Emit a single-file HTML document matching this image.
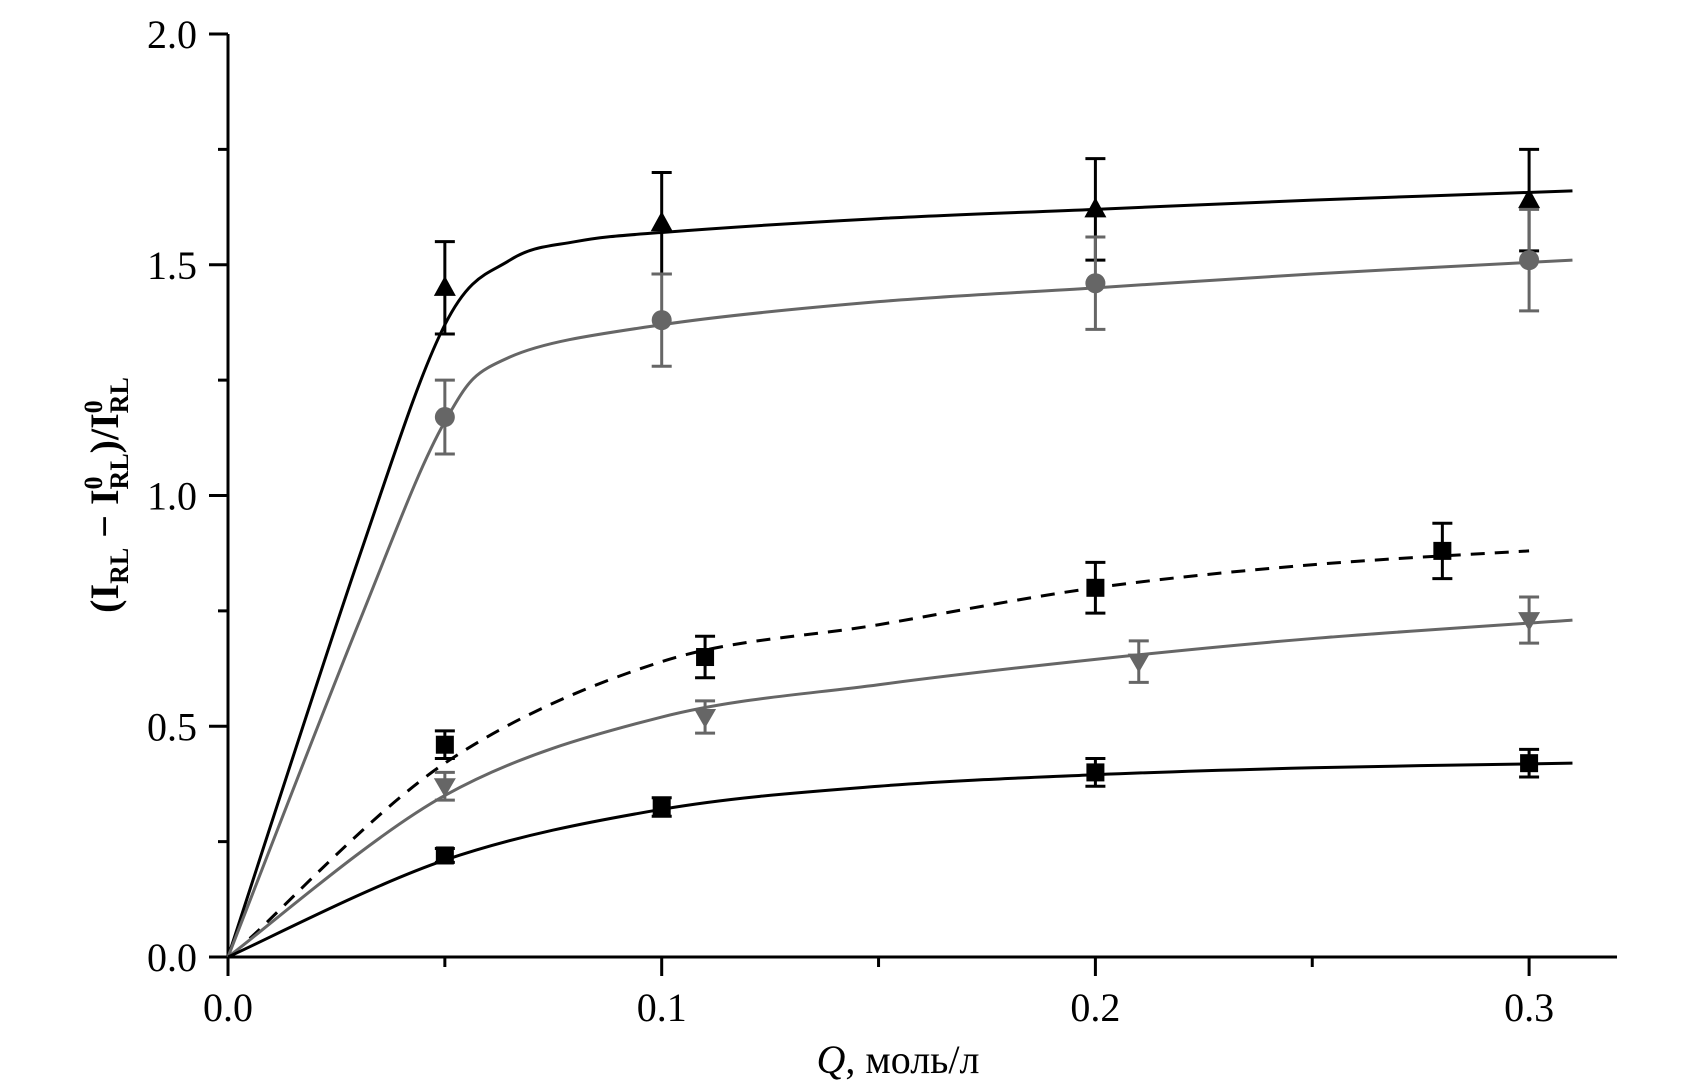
<!DOCTYPE html>
<html><head><meta charset="utf-8"><style>
html,body{margin:0;padding:0;background:#fff}
svg{display:block}
text{font-family:"Liberation Serif",serif}
</style></head><body>
<svg id="chart" width="1689" height="1087" viewBox="0 0 1689 1087">
<g id="axes"></g>
<g id="series"></g>
<text x="118" y="495" transform="rotate(-90 118 495)" text-anchor="middle" font-size="40" font-weight="bold">(I<tspan font-size="26" dy="10">RL</tspan><tspan dy="-10"> − I</tspan><tspan font-size="26" dy="-16">0</tspan><tspan font-size="26" dx="-13" dy="26">RL</tspan><tspan dy="-10">)/I</tspan><tspan font-size="26" dy="-16">0</tspan><tspan font-size="26" dx="-13" dy="26">RL</tspan></text>
<text x="898" y="1073" text-anchor="middle" font-size="40"><tspan font-style="italic">Q</tspan>, моль/л</text>
</svg>
<script>
const xTicks=[0,0.1,0.2,0.3];
const xTickLabels=["0.0","0.1","0.2","0.3"];
const yTicks=[0,0.5,1.0,1.5,2.0];
const yTickLabels=["0.0","0.5","1.0","1.5","2.0"];
const xMinor=[0.05,0.15,0.25];
const yMinor=[0.25,0.75,1.25,1.75];

const triX=[0.05,0.1,0.2,0.3], triY=[1.45,1.59,1.62,1.64], triErr=[0.1,0.11,0.11,0.11];
const triFitX=[0,0.03,0.05,0.065,0.08,0.1,0.15,0.2,0.25,0.31];
const triFitY=[0,0.86,1.37,1.51,1.55,1.57,1.60,1.62,1.64,1.66];
const cirX=[0.05,0.1,0.2,0.3], cirY=[1.17,1.38,1.46,1.51], cirErr=[0.08,0.1,0.1,0.11];
const cirFitX=[0,0.03,0.05,0.065,0.1,0.15,0.2,0.25,0.31];
const cirFitY=[0,0.72,1.16,1.30,1.37,1.42,1.45,1.48,1.51];
const sqdX=[0.05,0.11,0.2,0.28], sqdY=[0.46,0.65,0.80,0.88], sqdErr=[0.03,0.045,0.055,0.06];
const sqdFitX=[0.005,0.05,0.1,0.15,0.2,0.25,0.3];
const sqdFitY=[0.04,0.42,0.64,0.72,0.80,0.85,0.88];
const invX=[0.05,0.11,0.21,0.3], invY=[0.37,0.52,0.64,0.73], invErr=[0.03,0.035,0.045,0.05];
const invFitX=[0,0.05,0.1,0.15,0.2,0.25,0.31];
const invFitY=[0,0.35,0.52,0.59,0.645,0.69,0.73];
const sqX=[0.05,0.1,0.2,0.3], sqY=[0.22,0.325,0.40,0.42], sqErr=[0.015,0.02,0.03,0.03];
const sqFitX=[0,0.05,0.1,0.15,0.2,0.25,0.31];
const sqFitY=[0,0.21,0.32,0.37,0.395,0.41,0.42];

const X=v=>228+v*4337, Y=v=>957-v*461.5;
const NS="http://www.w3.org/2000/svg";
function mk(tag,attrs,parent){const e=document.createElementNS(NS,tag);for(const k in attrs)e.setAttribute(k,attrs[k]);parent.appendChild(e);return e;}
const axes=document.getElementById('axes'), ser=document.getElementById('series');

let a=mk('line',{x1:228,y1:957,x2:1617,y2:957,stroke:'#000','stroke-width':3},axes);

a=mk('line',{x1:228,y1:34,x2:228,y2:957,stroke:'#000','stroke-width':3},axes);

xTicks.forEach((v,i)=>{
 const t=mk('line',{x1:X(v),y1:957,x2:X(v),y2:976,stroke:'#000','stroke-width':3},axes);
 
 const l=mk('text',{x:X(v),y:1021,'text-anchor':'middle','font-size':40},axes);l.textContent=xTickLabels[i];
 
});
xMinor.forEach(v=>{const t=mk('line',{x1:X(v),y1:957,x2:X(v),y2:967,stroke:'#000','stroke-width':3},axes);
 });
yTicks.forEach((v,i)=>{
 const t=mk('line',{x1:209,y1:Y(v),x2:228,y2:Y(v),stroke:'#000','stroke-width':3},axes);
 
 const l=mk('text',{x:197,y:Y(v)+14,'text-anchor':'end','font-size':40},axes);l.textContent=yTickLabels[i];
 
});
yMinor.forEach(v=>{const t=mk('line',{x1:218,y1:Y(v),x2:228,y2:Y(v),stroke:'#000','stroke-width':3},axes);
 });

function smooth(xs,ys){const p=xs.map((x,i)=>[X(x),Y(ys[i])]);let d=`M${p[0][0]},${p[0][1]}`;
 for(let i=0;i<p.length-1;i++){const p0=p[i-1]||p[i],p1=p[i],p2=p[i+1],p3=p[i+2]||p2;
  d+=` C${p1[0]+(p2[0]-p0[0])/6},${p1[1]+(p2[1]-p0[1])/6} ${p2[0]-(p3[0]-p1[0])/6},${p2[1]-(p3[1]-p1[1])/6} ${p2[0]},${p2[1]}`;}
 return d;}
function series(name,fx,fy,xs,ys,es,color,marker,dash){
 const g=mk('g',{},ser);
 const c=mk('path',{d:smooth(fx,fy),fill:'none',stroke:color,'stroke-width':3,'stroke-dasharray':dash||'none'},g);
 
 xs.forEach((x,i)=>{const cx=X(x),cy=Y(ys[i]),t=Y(ys[i]+es[i]),b=Y(ys[i]-es[i]);
  const eb=mk('path',{d:`M${cx},${t}V${b}M${cx-10},${t}H${cx+10}M${cx-10},${b}H${cx+10}`,stroke:color,'stroke-width':3,fill:'none'},g);
  
  let m;
  if(marker==='tri')m=mk('polygon',{points:`${cx},${cy-12} ${cx-11},${cy+8} ${cx+11},${cy+8}`,fill:color},g);
  else if(marker==='inv')m=mk('polygon',{points:`${cx},${cy+11} ${cx-11},${cy-8} ${cx+11},${cy-8}`,fill:color},g);
  else if(marker==='cir')m=mk('circle',{cx:cx,cy:cy,r:10,fill:color},g);
  else m=mk('rect',{x:cx-9,y:cy-9,width:18,height:18,fill:color},g);
  
 });}
series('series-triangle',triFitX,triFitY,triX,triY,triErr,'#000','tri');
series('series-circle',cirFitX,cirFitY,cirX,cirY,cirErr,'#666','cir');
series('series-square-dashed',sqdFitX,sqdFitY,sqdX,sqdY,sqdErr,'#000','sq','14 10');
series('series-inverted-triangle',invFitX,invFitY,invX,invY,invErr,'#666','inv');
series('series-square',sqFitX,sqFitY,sqX,sqY,sqErr,'#000','sq');
</script>
</body></html>
